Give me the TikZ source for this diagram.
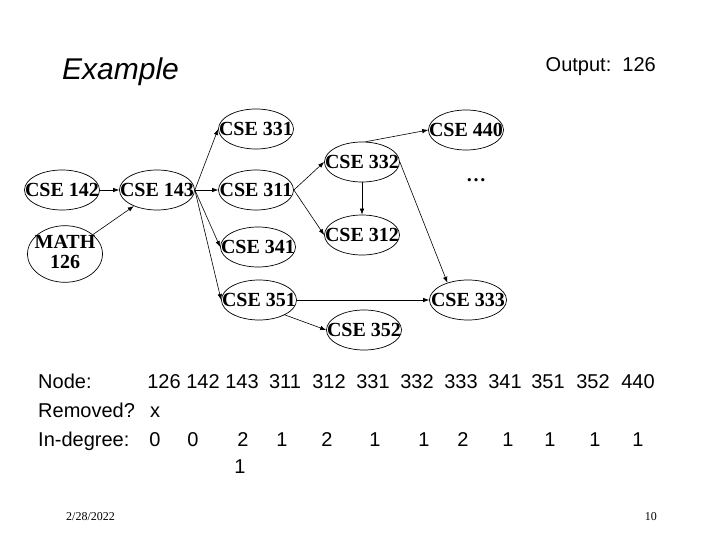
\documentclass[tikz,border=0pt]{standalone}
\usepackage{fontspec}
\setmainfont{Liberation Serif}
\newfontfamily\slidefont{Liberation Sans}
\usetikzlibrary{shapes.geometric,arrows.meta}

\newcommand{\crs}[1]{\makebox[0pt]{#1}}

\tikzset{
  course/.style={draw, ellipse, line width=0.7pt, minimum width=75pt, minimum height=40pt,
    inner sep=0pt, font=\fontsize{20}{20}\selectfont\bfseries},
  prereq/.style={-{Latex[length=6pt,width=4.5pt]}, line width=0.6pt},
  tabtext/.style={font=\slidefont\fontsize{20}{24}\selectfont, anchor=base, inner sep=0pt},
}

\begin{document}
\begin{tikzpicture}[x=1pt,y=-1pt]
\useasboundingbox (0,0) rectangle (720,540);

% title and output
\node[font=\slidefont\itshape\fontsize{30}{36}\selectfont, anchor=base west, inner sep=0pt] (title) at (62,80) {Example};
\node[tabtext, anchor=base east] (output) at (656,72) {Output:~~126};

% courses
\node[course] (c142) at (62,190) {\crs{CSE 142}};
\node[course] (c143) at (157,190) {\crs{CSE 143}};
\node[course, minimum height=42pt] (m126) at (65,254) {\crs{\begin{tabular}{@{}c@{}}MATH\\126\end{tabular}}};
\node[course] (c331) at (256,129) {\crs{CSE 331}};
\node[course] (c311) at (256,190) {\crs{CSE 311}};
\node[course] (c341) at (258,247) {\crs{CSE 341}};
\node[course] (c351) at (259,300) {\crs{CSE 351}};
\node[course] (c332) at (362,162) {\crs{CSE 332}};
\node[course] (c312) at (362,235) {\crs{CSE 312}};
\node[course] (c352) at (364,330) {\crs{CSE 352}};
\node[course] (c440) at (466,130) {\crs{CSE 440}};
\node[course, minimum width=77pt] (c333) at (468,300) {\crs{CSE 333}};
\node[font=\fontsize{20}{20}\selectfont\bfseries, inner sep=0pt] (more) at (476,180) {\ldots};

% prerequisites
\draw[prereq] (c142.east) -- (c143.west);
\draw[prereq] (m126) -- (c143);
\draw[prereq] (c143.east) -- (c331.west);
\draw[prereq] (c143.east) -- (c311.west);
\draw[prereq] (c143.east) -- (c341.west);
\draw[prereq] (c143.east) -- (c351.west);
\draw[prereq] (c311.east) -- (c332.west);
\draw[prereq] (c311.east) -- (c312.west);
\draw[prereq] (c332.80) -- (c440.west);
\draw[prereq] (c332.south) -- (c312.north);
\draw[prereq] (c332.east) -- (c333.140);
\draw[prereq] (c351.east) -- (c333.west);
\draw[prereq] (c351.-30) -- (c352.west);

% table
\node[tabtext, anchor=base west] (rnode) at (38,388) {Node:};
\node[tabtext, anchor=base west] (rremoved) at (38,417) {Removed?};
\node[tabtext, anchor=base west] (rdegree) at (38,446) {In-degree:};
\foreach \name/\xn/\deg/\xd in {126/164/0/155, 142/203/0/193, 143/242/2/243, 311/285/1/282,
    312/329/2/327, 331/373/1/375, 332/417/1/424, 333/461/2/463, 341/505/1/508,
    351/548/1/550, 352/593/1/595, 440/638/1/638}{
  \node[tabtext] (n\name) at (\xn,388) {\name};
  \node[tabtext] (d\name) at (\xd,446) {\deg};
}
\node[tabtext] (x126) at (155,417) {x};
\node[tabtext] (d143b) at (240,473) {1};

% footer
\node[font=\fontsize{12}{14}\selectfont, anchor=base, inner sep=0pt] (date) at (90.5,520) {2/28/2022};
\node[font=\fontsize{12}{14}\selectfont, anchor=base east, inner sep=0pt] (page) at (657,520) {10};
\end{tikzpicture}
\end{document}
